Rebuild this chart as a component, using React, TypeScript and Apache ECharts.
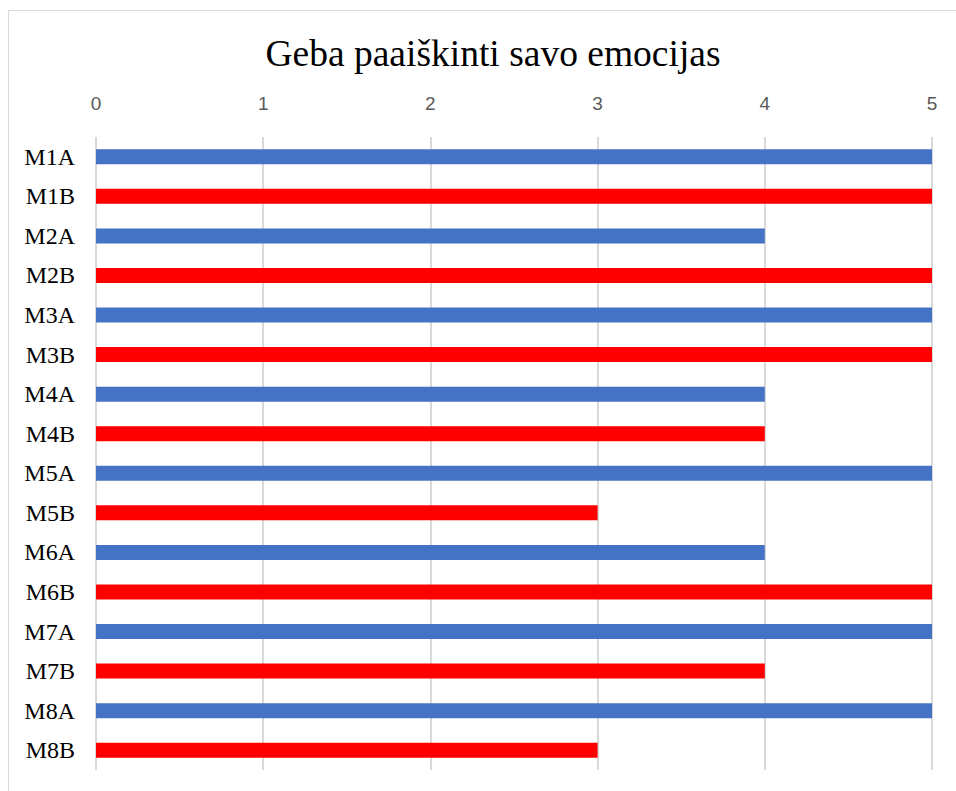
import React, { useEffect, useRef } from "react";
import * as echarts from "echarts";

const title = "Geba paaiškinti savo emocijas";
const categories = ["M1A", "M1B", "M2A", "M2B", "M3A", "M3B", "M4A", "M4B", "M5A", "M5B", "M6A", "M6B", "M7A", "M7B", "M8A", "M8B"];
const values = [5, 5, 4, 5, 5, 5, 4, 4, 5, 3, 4, 5, 5, 4, 5, 3];
const xTicks = [0, 1, 2, 3, 4, 5];

const BLUE = "#4472C4";
const RED = "#FF0000";

export default function App() {
  const ref = useRef<HTMLDivElement>(null);
  useEffect(() => {
    if (!ref.current) return;
    const chart = echarts.init(ref.current, undefined, { renderer: "svg" });
    const aVals = values.map((v, i) => (categories[i].endsWith("A") ? v : null));
    const bVals = values.map((v, i) => (categories[i].endsWith("B") ? v : null));
    chart.setOption({
      animation: false,
      backgroundColor: "#ffffff",
      title: {
        text: title,
        left: 480,
        textAlign: "center",
        top: 19,
        textStyle: { fontFamily: "Liberation Serif", fontSize: 37.5, fontWeight: "normal", color: "#000000" },
      },
      graphic: [
        { type: "line", shape: { x1: 0.5, y1: 0.5, x2: 0.5, y2: 800 }, style: { stroke: "#d9d9d9", lineWidth: 1 } },
        { type: "line", shape: { x1: 0.5, y1: 0.5, x2: 1000, y2: 0.5 }, style: { stroke: "#d9d9d9", lineWidth: 1 } },
      ],
      grid: { left: 88, right: 24, top: 127, bottom: 21, containLabel: false },
      xAxis: {
        type: "value",
        position: "top",
        min: xTicks[0],
        max: xTicks[xTicks.length - 1],
        interval: 1,
        axisLine: { show: false },
        axisTick: { show: false },
        axisLabel: { color: "#595959", fontFamily: "Liberation Sans", fontSize: 19, margin: 24 },
        splitLine: { show: true, lineStyle: { color: "#d9d9d9", width: 2 } },
      },
      yAxis: {
        type: "category",
        data: categories,
        inverse: true,
        axisLine: { show: false },
        axisTick: { show: false },
        axisLabel: { color: "#000000", fontFamily: "Liberation Serif", fontSize: 24, margin: 21 },
      },
      series: [
        { type: "bar", stack: "s", data: aVals, barWidth: 15, itemStyle: { color: BLUE } },
        { type: "bar", stack: "s", data: bVals, barWidth: 16, itemStyle: { color: RED } },
      ],
    });
    return () => chart.dispose();
  }, []);
  return (
    <div
      ref={ref}
      style={{ position: "absolute", left: 8, top: 10, width: 948, height: 781 }}
    />
  );
}
